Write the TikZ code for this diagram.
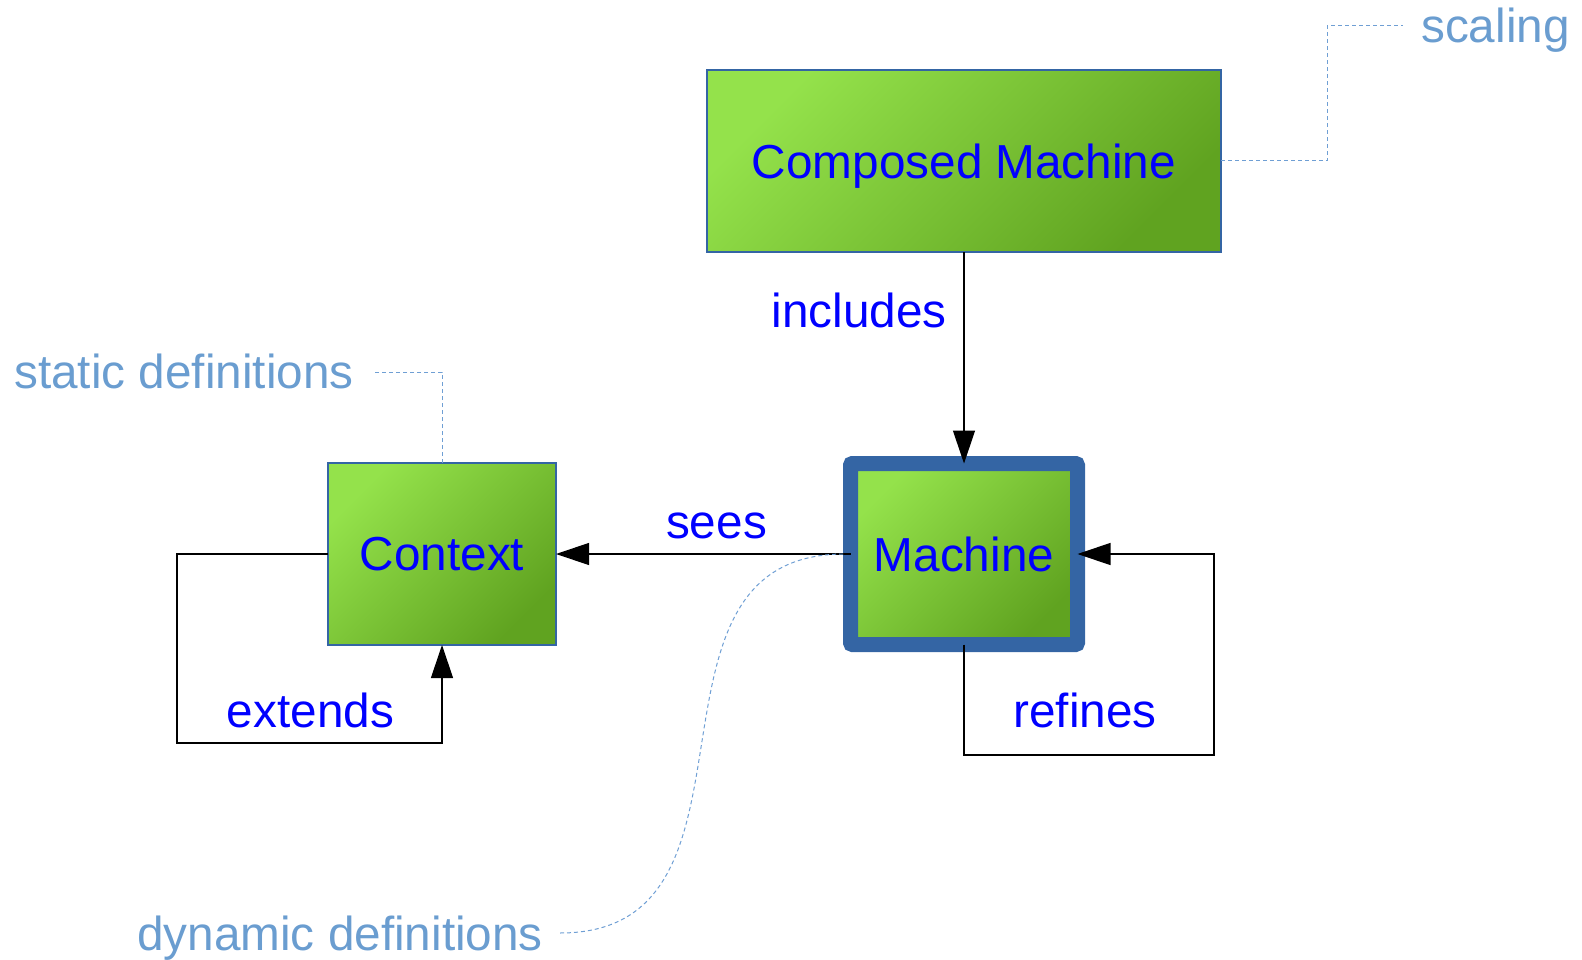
\documentclass[tikz,border=0pt]{standalone}
\usepackage{fontspec}
\setmainfont{Liberation Sans}
\usetikzlibrary{arrows.meta}
\definecolor{gLight}{HTML}{94E24B}
\definecolor{gDark}{HTML}{60A320}
\definecolor{bordBlue}{HTML}{3465A4}
\definecolor{txtBlue}{HTML}{0000FF}
\definecolor{noteBlue}{HTML}{6A9DD0}
\definecolor{dashBlue}{HTML}{6F9FD4}
\begin{document}
\begin{tikzpicture}[x=1pt,y=-1pt,
  bigfont/.style={font=\fontsize{47.7}{57}\selectfont},
  box/.style={rectangle, draw=bordBlue, line width=1.2pt, outer sep=0pt, inner sep=0pt,
    top color=gLight, bottom color=gDark, shading angle=45, text=txtBlue, bigfont, text depth=0pt},
  mbox/.style={box, line width=15pt, rounded corners=2pt},
  lbl/.style={text=txtBlue, bigfont, inner sep=0pt, anchor=base},
  note/.style={text=noteBlue, bigfont, inner sep=0pt, anchor=base west},
  conn/.style={draw=black, line width=1.2pt},
  arr/.style={conn, -{Triangle[length=33pt,width=22pt]}},
  notelink/.style={draw=dashBlue, line width=1pt, dash pattern=on 4pt off 3pt}
]
\useasboundingbox (0,0) rectangle (1582,960);

% nodes
\node[box, minimum width=514pt, minimum height=182pt] (cm) at (964,161) {Composed Machine};
\node[box, minimum width=228pt, minimum height=182pt] (ctx) at (442,554) {Context};
\node[mbox, minimum width=227pt, minimum height=181pt] (mach) at (964,554) {Machine};

% annotation texts
\node[note] (scal) at (1421,43) {scaling};
\node[note] (stat) at (14,388) {static definitions};
\node[note] (dyn) at (137,950) {dynamic definitions};

% connector labels
\node[lbl] (linc) at (859,327) {includes};
\node[lbl] (lsee) at (716.5,538) {sees};
\node[lbl] (lext) at (310.5,727) {extends};
\node[lbl] (lref) at (1085,727) {refines};

% helper coordinates
\coordinate (e1) at (177,743);
\coordinate (r1) at (1214,755);
\coordinate (s1) at (1327,26);
\coordinate (s2) at (1403,26);
\coordinate (st1) at (374,372);
\coordinate (d1) at (560,933);

% connectors
\draw[arr] (cm.south) -- (mach.north);
\draw[arr] (mach.west) -- (ctx.east);
\draw[arr] (ctx.west) -| (e1) -| (ctx.south);
\draw[arr] (mach.south) |- (r1) |- (mach.east);

% annotation links
\draw[notelink] (cm.east) -| (s1) -- (s2);
\draw[notelink] (ctx.north) |- (st1);
\draw[notelink] (d1) .. controls (783,933) and (620,555) .. ([xshift=-7pt]mach.west);
\end{tikzpicture}
\end{document}
